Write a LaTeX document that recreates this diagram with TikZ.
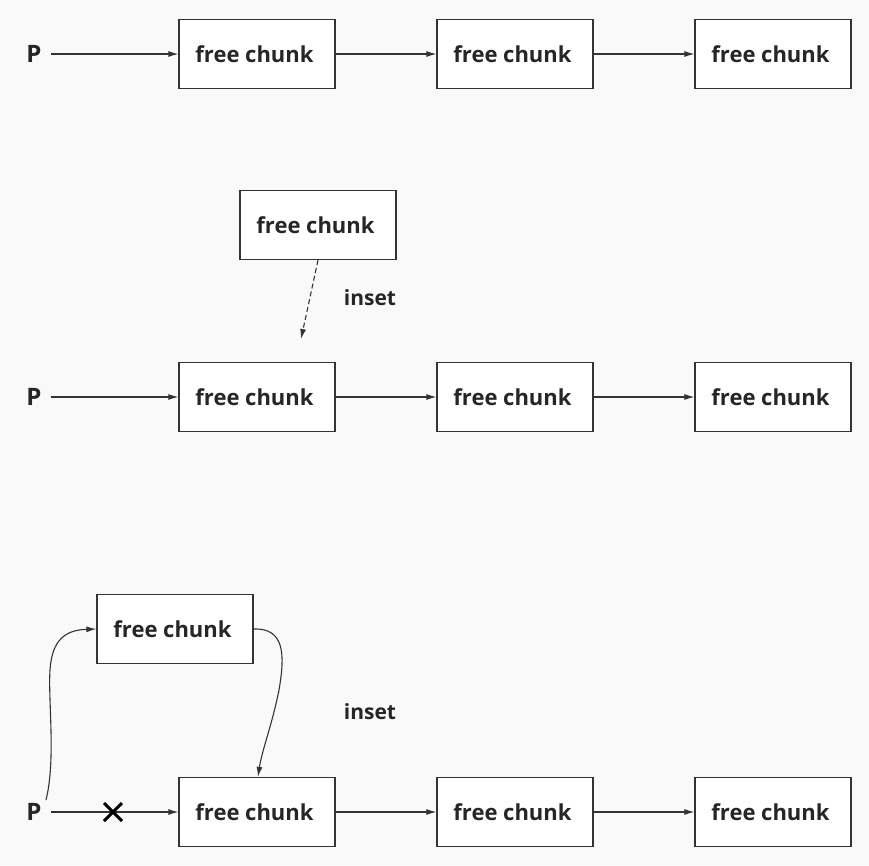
\documentclass[tikz,border=0pt]{standalone}
\usepackage{fontspec}
\setmainfont{Open Sans}
\usetikzlibrary{arrows.meta}
\definecolor{bg}{HTML}{F9F9F9}
\definecolor{ln}{HTML}{333333}
\definecolor{tx}{HTML}{262626}
\begin{document}
\begin{tikzpicture}[x=1pt,y=-1pt,
  chunk/.style={draw=ln,fill=white,line width=1.3pt,minimum width=156pt,minimum height=69pt,inner sep=0pt,font=\fontsize{22}{26}\selectfont\bfseries,text=tx,text depth=0pt},
  lbl/.style={font=\fontsize{21}{26}\selectfont\bfseries,text=tx,inner sep=0pt},
  plbl/.style={font=\fontsize{24}{26}\selectfont\bfseries,text=tx,inner sep=0pt},
  arr/.style={draw=ln,line width=1.1pt,-{Latex[length=10pt,width=6pt]}},
  dsh/.style={arr,dash pattern=on 5pt off 3pt}]
\fill[bg] (0,0) rectangle (869,865);
\useasboundingbox (0,0) rectangle (869,865);
% row 1
\node[plbl] (p1) at (34,54) {P};
\node[chunk] (a1) at (257,54) {\hspace*{-5pt}free chunk};
\node[chunk] (a2) at (515,54) {\hspace*{-5pt}free chunk};
\node[chunk] (a3) at (773,54) {\hspace*{-5pt}free chunk};
\draw[arr] (p1.east)+(9,0) -- (a1.west);
\draw[arr] (a1) -- (a2);
\draw[arr] (a2) -- (a3);
% row 2
\node[chunk] (n2) at (318,225) {\hspace*{-5pt}free chunk};
\node[lbl] (i2) at (370,298) {inset};
\node[plbl] (p2) at (34,397) {P};
\node[chunk] (b1) at (257,397) {\hspace*{-5pt}free chunk};
\node[chunk] (b2) at (515,397) {\hspace*{-5pt}free chunk};
\node[chunk] (b3) at (773,397) {\hspace*{-5pt}free chunk};
\coordinate (d2) at (301,339);
\draw[dsh] (n2.south) -- (d2);
\draw[arr] (p2.east)+(9,0) -- (b1.west);
\draw[arr] (b1) -- (b2);
\draw[arr] (b2) -- (b3);
% row 3
\node[chunk] (n3) at (175,629) {\hspace*{-5pt}free chunk};
\node[lbl] (i3) at (370,712) {inset};
\node[plbl] (p3) at (34,812) {P};
\node[chunk] (c1) at (257,812) {\hspace*{-5pt}free chunk};
\node[chunk] (c2) at (515,812) {\hspace*{-5pt}free chunk};
\node[chunk] (c3) at (773,812) {\hspace*{-5pt}free chunk};
\coordinate (ps) at (46,800);
\draw[arr] (ps) .. controls (56,760) and (48,700) .. (50,670) .. controls (52,640) and (65,630) .. (n3.west);
\draw[arr] (n3.east) .. controls (285,628) and (285,655) .. (279,690) .. controls (272,725) and (262,750) .. ([xshift=1pt]c1.north);
\draw[arr] (p3.east)+(9,0) -- (c1.west);
\coordinate (xc) at (113,812);
\draw[black,line width=3pt] (xc)+(-9,-9) -- +(9,9) (xc)+(-9,9) -- +(9,-9);
\draw[arr] (c1) -- (c2);
\draw[arr] (c2) -- (c3);
\end{tikzpicture}
\end{document}
